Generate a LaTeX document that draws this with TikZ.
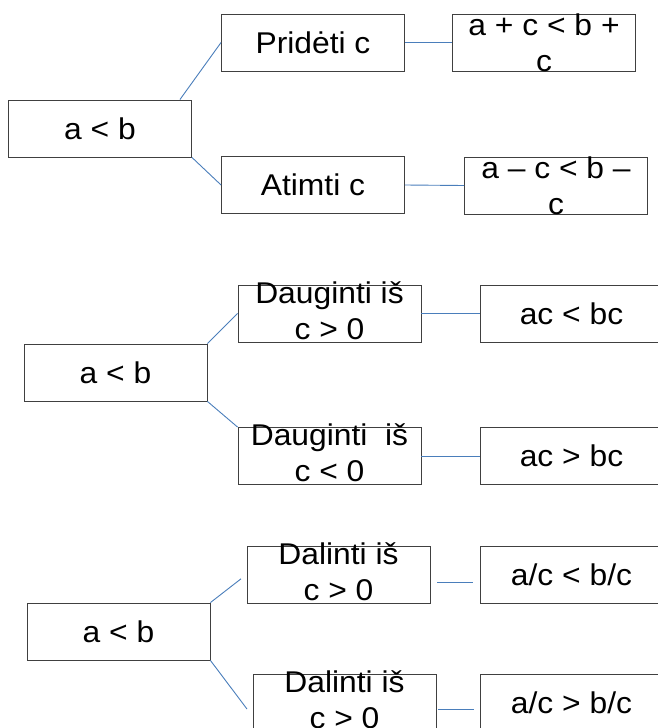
\documentclass[tikz,border=0pt]{standalone}
\usepackage{fontspec}
\setmainfont[FakeStretch=1.06]{Liberation Sans}
\usepackage{tikz}

\definecolor{linkblue}{HTML}{4A7EBB}
\definecolor{boxgray}{HTML}{404040}

\tikzset{
  box/.style={draw=boxgray, line width=0.9pt, minimum width=183pt,
    minimum height=57pt, inner sep=0pt},
  txt/.style={align=center, inner sep=0pt,
    font=\fontsize{30}{36}\selectfont},
  link/.style={draw=linkblue, line width=0.9pt}
}

\begin{document}
\begin{tikzpicture}[x=1pt, y=-1pt]
          \useasboundingbox (0,0) rectangle (658,728);

          % adding / subtracting c
          \node[box, label={[txt]center:a < b}] (a1) at (100,128.5) {};
          \node[box, label={[txt]center:Pridėti c}] (p) at (313,42.5) {};
          \node[box, label={[txt]center:{a + c < b +\\c}}] (r1) at (544,42.5) {};
          \node[box, label={[txt]center:Atimti c}] (m) at (313,185) {};
          \node[box, label={[txt]center:{a – c < b –\\c}}] (r2) at (556,185.5) {};

          \draw[link] ([xshift=-12pt]a1.north east) -- (p.west);
          \draw[link] (a1.south east) -- (m.west);

          % multiplying by c
          \node[box, label={[txt]center:a < b}] (a2) at (115.5,372.5) {};
          \node[box, label={[txt,yshift=3pt]center:{Dauginti iš\\c > 0}}] (d1) at (329.5,313.5) {};
          \node[box, label={[txt,yshift=3pt]center:{Dauginti\ \ iš\\c < 0}}] (d2) at (329.5,456) {};
          \node[box, label={[txt]center:ac < bc}] (r3) at (571.5,313.5) {};
          \node[box, label={[txt]center:ac > bc}] (r4) at (571.5,456) {};

          \draw[link] (a2.north east) -- (d1.west);
          \draw[link] (a2.south east) -- (d2.north west);

          \foreach \u/\v in {p/r1, m/r2, d1/r3, d2/r4}{
            \draw[link] (\u.east) -- (\v.west);
          }

          % dividing by c
          \node[box, label={[txt]center:a < b}] (a3) at (118.5,631.5) {};
          \node[box, label={[txt,yshift=3pt]center:{Dalinti iš\\c > 0}}] (l1) at (338.5,574.5) {};
          \node[box, label={[txt,yshift=3pt]center:{Dalinti iš\\c > 0}}] (l2) at (344.5,702.5) {};
          \node[box, label={[txt]center:a/c < b/c}] (r5) at (571.5,574.5) {};
          \node[box, label={[txt]center:a/c > b/c}] (r6) at (571.5,702.5) {};

          \coordinate (l2in) at (247,709);
          \coordinate (l1out) at (437,582);
          \coordinate (r5in) at (473,582);
          \coordinate (l2out) at (438,709);
          \coordinate (r6in) at (474,709);

          \draw[link, shorten >=7pt] (a3.north east) -- (l1.west);
          \draw[link] (a3.south east) -- (l2in);
          \draw[link] (l1out) -- (r5in);
          \draw[link] (l2out) -- (r6in);
        \end{tikzpicture}
\end{document}
